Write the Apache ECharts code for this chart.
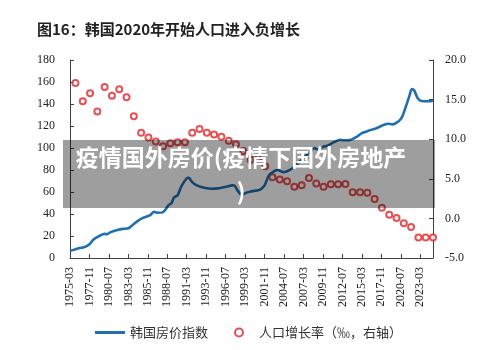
<!DOCTYPE html>
<html>
<head>
<meta charset="utf-8">
<script src="https://cdn.jsdelivr.net/npm/echarts@6/dist/echarts.min.js"></script>
<style>
  html, body { margin: 0; padding: 0; background: #fff; }
  #chart { width: 500px; height: 350px; }
</style>
</head>
<body>
<div id="chart"></div>
<script>
// Monthly category axis, 1975-03 .. 2024-12
const startYear = 1975, startMonth = 3, endYear = 2024, endMonth = 12;
const months = [];
for (let y = startYear; y <= endYear; y++) {
  for (let m = (y === startYear ? startMonth : 1); m <= (y === endYear ? endMonth : 12); m++) {
    months.push(y + '-' + String(m).padStart(2, '0'));
  }
}

// Korean house price index (left axis)
const priceDates = [
  '1975-03','1976-03','1977-03','1977-11','1978-06','1979-03','1979-12','1980-03','1980-10','1981-09',
  '1982-06','1983-03','1983-09','1984-06','1985-03','1986-03','1986-09','1987-03','1987-11','1988-04',
  '1988-09','1989-02','1989-06','1989-12','1990-06','1991-03','1991-06','1991-12','1992-06','1993-06',
  '1994-06','1995-06','1996-06','1997-06','1997-10','1998-03','1998-10','1999-03','1999-12','2000-06',
  '2001-03','2001-11','2002-06','2003-03','2003-09','2004-06','2005-06','2006-06','2007-03','2008-01',
  '2008-09','2009-03','2009-11','2010-06','2011-06','2012-03','2012-09','2013-06','2014-06','2015-03',
  '2016-03','2017-03','2017-11','2018-09','2019-06','2020-03','2020-09','2021-03','2021-09','2022-01',
  '2022-05','2022-10','2023-03','2023-09','2024-06','2024-12'
];
const priceValues = [
  6.5, 8.5, 10, 12.5, 17, 20, 22, 21.5, 23.5, 25.5,
  26.5, 27, 29.5, 33.5, 36.5, 39, 42, 41.2, 41.5, 44,
  48, 50, 55, 57, 65, 72.5, 73, 69, 66.5, 64,
  63, 63.3, 64.5, 66, 65.5, 61, 57, 59, 60.5, 61,
  62, 66, 75, 79, 80, 78, 80.5, 86, 91, 96,
  100, 98.5, 101, 102, 105.5, 107.5, 107, 107, 110, 113.5,
  116, 118, 120, 122, 121.5, 124, 128, 137, 147, 153.5,
  152.5, 146, 143, 142.5, 142.5, 143
];

// Population growth rate, per mille, year-end (right axis)
const popYears = [];
for (let y = 1975; y <= 2024; y++) popYears.push(y + '-12');
const popValues = [
  17.1, 14.8, 15.8, 13.5, 16.6, 15.5, 16.3, 15.3, 12.9, 10.8,
  10.2, 9.7, 9.1, 9.5, 9.6, 9.6, 10.8, 11.3, 10.8, 10.6,
  10.3, 9.8, 9.35, 8.5, 7.4, 7.6, 6.6, 5.2, 4.9, 4.7,
  4.0, 4.2, 5.1, 4.4, 4.0, 4.3, 4.3, 4.35, 3.3, 3.3,
  3.25, 2.45, 1.35, 0.47, 0.05, -0.6, -1.1, -2.4, -2.4, -2.4
];

// Left and right axis ranges
const leftMin = 0, leftMax = 180, leftStep = 20;
const rightMin = -5, rightMax = 20, rightStep = 5;

const serif = '"Liberation Serif", "Times New Roman", serif';
const cjk = '"Noto Sans CJK SC", sans-serif';
const axisColor = '#404040';

const chart = echarts.init(document.getElementById('chart'), null, { renderer: 'canvas' });

chart.setOption({
  animation: false,
  backgroundColor: '#fff',
  title: {
    text: '图16：韩国2020年开始人口进入负增长',
    left: 32, top: 17,
    textStyle: { fontFamily: cjk, fontSize: 15, fontWeight: 'bold', color: '#222' }
  },
  legend: {
    bottom: 6, left: 90,
    itemWidth: 30, itemHeight: 8, itemGap: 26,
    textStyle: { fontFamily: cjk, fontSize: 13, color: '#333' },
    data: [
      { name: '韩国房价指数', icon: 'path://M0,0 L30,0 L30,3 L0,3 Z' },
      { name: '人口增长率（‰，右轴）' }
    ]
  },
  grid: { left: 70, right: 67, top: 60, bottom: 92, containLabel: false },
  xAxis: {
    type: 'category',
    data: months,
    boundaryGap: false,
    axisLine: { lineStyle: { color: axisColor, width: 1 } },
    axisTick: { inside: true, length: 4, interval: 31, lineStyle: { color: axisColor } },
    axisLabel: {
      interval: 31, rotate: 90, margin: 9,
      fontFamily: serif, fontSize: 12, color: '#222'
    },
    splitLine: { show: false }
  },
  yAxis: [
    {
      type: 'value', min: leftMin, max: leftMax, interval: leftStep,
      axisLine: { show: true, lineStyle: { color: axisColor } },
      axisTick: { show: true, inside: true, length: 4, lineStyle: { color: axisColor } },
      axisLabel: { fontFamily: serif, fontSize: 12, color: '#222', margin: 15 },
      splitLine: { show: false }
    },
    {
      type: 'value', min: rightMin, max: rightMax, interval: rightStep,
      position: 'right',
      axisLine: { show: true, lineStyle: { color: axisColor } },
      axisTick: { show: true, inside: true, length: 4, lineStyle: { color: axisColor } },
      axisLabel: {
        fontFamily: serif, fontSize: 12, color: '#222', margin: 12,
        formatter: v => v.toFixed(1)
      },
      splitLine: { show: false }
    }
  ],
  series: [
    {
      name: '韩国房价指数',
      type: 'line',
      yAxisIndex: 0,
      data: priceDates.map((d, i) => [d, priceValues[i]]),
      showSymbol: false,
      smooth: 0.2,
      lineStyle: { color: '#1f6fb2', width: 2.6 },
      itemStyle: { color: '#1f6fb2' },
      z: 3
    },
    {
      name: '人口增长率（‰，右轴）',
      type: 'scatter',
      yAxisIndex: 1,
      data: popYears.map((d, i) => [d, popValues[i]]),
      symbol: 'emptyCircle',
      symbolSize: 6,
      itemStyle: { color: '#e0262b', borderColor: '#e0262b', borderWidth: 1.3 },
      z: 2
    }
  ],
  graphic: [
    {
      type: 'rect', z: 100,
      shape: { x: 63, y: 140, width: 372, height: 68 },
      style: { fill: 'rgba(0,0,0,0.38)' }
    },
    {
      type: 'text', z: 101,
      x: 241, y: 174,
      style: {
        text: '疫情国外房价(疫情下国外房地产\n)',
        fill: '#fff',
        font: 'bold 23px "Noto Sans CJK SC", sans-serif',
        align: 'center', verticalAlign: 'middle',
        lineHeight: 34
      }
    }
  ]
});
</script>
</body>
</html>
